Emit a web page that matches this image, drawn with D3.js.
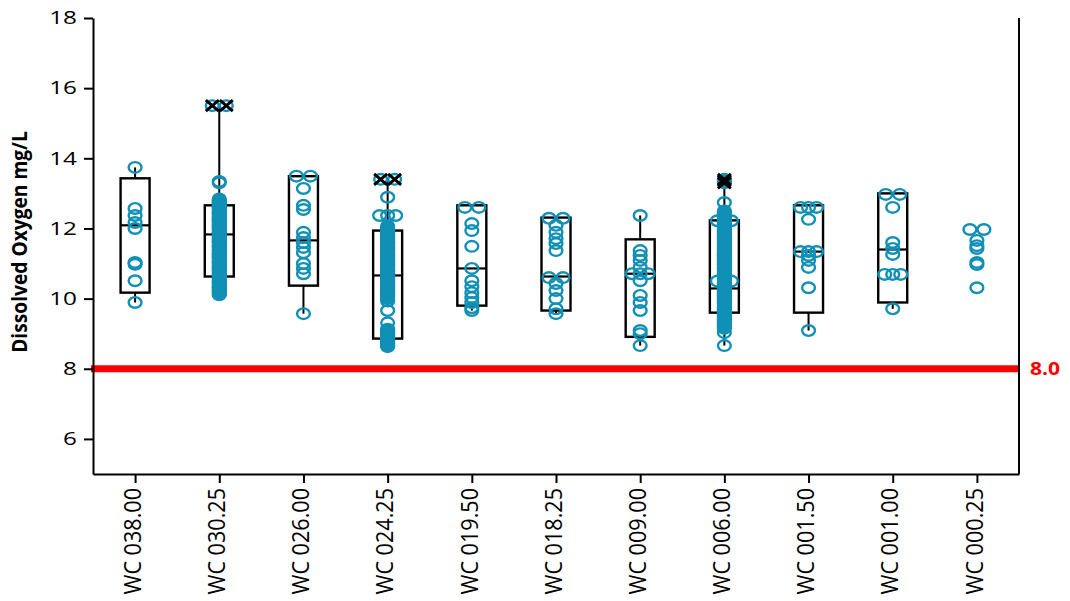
<!DOCTYPE html>
<html>
<head>
<meta charset="utf-8">
<script src="https://cdn.jsdelivr.net/npm/d3@7"></script>
<style>
    body { margin: 0; background: #fff; }
    svg { display: block; }
</style>
</head>
<body>
<div id="chart"></div>
<script>
    var stations = ["WC 038.00", "WC 030.25", "WC 026.00", "WC 024.25", "WC 019.50", "WC 018.25",
                    "WC 009.00", "WC 006.00", "WC 001.50", "WC 001.00", "WC 000.25"];

    // box statistics (null = no box drawn)
    var q1      = [10.17, 10.63, 10.37, 8.86, 9.80, 9.66, 8.91, 9.60, 9.60, 9.89, null];
    var median  = [12.09, 11.83, 11.66, 10.66, 10.86, 10.63, 10.71, 10.29, 11.34, 11.40, null];
    var q3      = [13.43, 12.66, 13.49, 11.94, 12.66, 12.31, 11.69, 12.23, 12.66, 13.00, null];
    var whiskLo = [9.89, 10.10, 9.57, 8.66, 9.66, 9.57, 8.66, 8.66, 9.09, 9.71, null];
    var whiskHi = [13.74, 15.50, 13.49, 13.40, 12.66, 12.31, 12.37, 13.33, 12.66, 13.00, null];

    // individual observations per station
    var obs038 = [13.74, 12.57, 12.37, 12.17, 12.0, 11.03, 10.98, 10.51, 9.89];
    var obs030 = [15.5, 15.5, 13.34, 13.3, 12.84, 12.8, 12.77, 12.72, 12.69, 12.66, 12.61, 12.58, 12.52, 12.5,
                  12.45, 12.41, 12.38, 12.33, 12.29, 12.26, 12.21, 12.18, 12.12, 12.1, 12.05, 12.01, 11.97,
                  11.93, 11.88, 11.86, 11.81, 11.77, 11.73, 11.7, 11.64, 11.61, 11.58, 11.53, 11.49, 11.46,
                  11.4, 11.37, 11.33, 11.29, 11.25, 11.2, 11.17, 11.14, 11.08, 11.05, 11.01, 10.97, 10.92,
                  10.89, 10.85, 10.81, 10.77, 10.73, 10.68, 10.65, 10.62, 10.57, 10.53, 10.49, 10.45, 10.41,
                  10.36, 10.33, 10.3, 10.25, 10.21, 10.18, 10.14, 10.11];
    var obs026 = [13.49, 13.49, 13.14, 12.66, 12.54, 11.89, 11.74, 11.6, 11.46, 11.31, 11.0, 10.86, 10.71, 9.57];
    var obs024 = [13.4, 13.4, 12.89, 12.37, 12.37, 12.37, 12.07, 12.03, 11.99, 11.95, 11.9, 11.87, 11.83, 11.78,
                  11.74, 11.71, 11.66, 11.62, 11.58, 11.55, 11.5, 11.46, 11.43, 11.38, 11.34, 11.3, 11.26,
                  11.21, 11.18, 11.13, 11.1, 11.06, 11.01, 10.97, 10.94, 10.9, 10.85, 10.81, 10.78, 10.73,
                  10.7, 10.65, 10.62, 10.58, 10.53, 10.5, 10.46, 10.41, 10.38, 10.34, 10.29, 10.26, 10.22,
                  10.17, 10.14, 10.1, 10.05, 10.0, 9.93, 9.66, 9.31, 9.13, 9.09, 9.05, 9.0, 8.96, 8.92, 8.87,
                  8.83, 8.79, 8.74, 8.7, 8.66, 8.63];
    var obs019 = [12.6, 12.6, 12.14, 11.94, 11.49, 10.86, 10.51, 10.34, 10.17, 10.03, 9.89, 9.74, 9.66];
    var obs018 = [12.29, 12.29, 12.09, 11.89, 11.71, 11.57, 11.37, 10.6, 10.6, 10.43, 10.23, 10.0, 9.71, 9.57];
    var obs009 = [12.37, 11.37, 11.23, 11.09, 10.89, 10.71, 10.71, 10.71, 10.51, 10.09, 9.89, 9.66, 9.09, 9.0, 8.66];
    var obs006 = [13.3, 13.36, 13.4, 12.74, 12.5, 12.46, 12.41, 12.37, 12.33, 12.22, 12.22, 12.29, 12.25, 12.19,
                  12.15, 12.1, 12.06, 12.01, 11.97, 11.93, 11.89, 11.84, 11.8, 11.76, 11.71, 11.67, 11.63,
                  11.59, 11.54, 11.5, 11.46, 11.41, 11.37, 11.33, 11.29, 11.24, 11.2, 11.16, 11.12, 11.07,
                  11.03, 10.99, 10.95, 10.9, 10.86, 10.82, 10.77, 10.73, 10.69, 10.65, 10.6, 10.56, 10.5,
                  10.5, 10.47, 10.43, 10.39, 10.34, 10.3, 10.26, 10.21, 10.17, 10.13, 10.09, 10.04, 10.0,
                  9.96, 9.92, 9.87, 9.83, 9.79, 9.74, 9.7, 9.66, 9.62, 9.57, 9.53, 9.49, 9.45, 9.4, 9.36,
                  9.32, 9.27, 9.23, 9.19, 9.15, 9.03, 8.66];
    var obs001_5 = [12.6, 12.6, 12.6, 12.26, 11.34, 11.34, 11.34, 11.23, 11.09, 10.89, 10.31, 9.09];
    var obs001_0 = [12.97, 12.97, 12.6, 11.6, 11.43, 11.26, 10.69, 10.69, 10.69, 9.71];
    var obs000 = [11.97, 11.97, 11.66, 11.51, 11.43, 11.03, 10.97, 10.31];
    var observations = [obs038, obs030, obs026, obs024, obs019, obs018, obs009, obs006, obs001_5, obs001_0, obs000];

    // values flagged as outliers (drawn with an X)
    var outlierStation = ["WC 030.25", "WC 030.25", "WC 024.25", "WC 024.25", "WC 006.00", "WC 006.00", "WC 006.00"];
    var outlierValue   = [15.5, 15.5, 13.4, 13.4, 13.3, 13.36, 13.4];

    var yTicks = [6, 8, 10, 12, 14, 16, 18];
    var threshold = 8.0;

    var margin = {top: 18, right: 51, bottom: 127, left: 93};
    var svgWidth = 1070, svgHeight = 601;
    var width = svgWidth - margin.left - margin.right;
    var height = svgHeight - margin.top - margin.bottom;

    var blue = "#1190b6";
    var font = "'Open Sans', 'DejaVu Sans', sans-serif";

    var svg = d3.select("#chart")
        .append("svg")
        .attr("width", svgWidth)
        .attr("height", svgHeight)
        .append("g")
        .attr("transform", "translate(" + margin.left + "," + margin.top + ")");

    var x = d3.scalePoint().domain(stations).range([0, width]).padding(0.5);
    var y = d3.scaleLinear().domain([5, 18]).range([height, 0]);

    // horizontal spread for identical values
    function spread(vals) {
        var counts = {}, seen = {};
        vals.forEach(v => { counts[v] = (counts[v] || 0) + 1; });
        return vals.map(v => {
            var n = counts[v];
            var i = seen[v] = (seen[v] === undefined ? 0 : seen[v] + 1);
            var step = n === 2 ? 14 : 8;
            return (i - (n - 1) / 2) * step;
        });
    }

    // boxes
    var boxes = stations.map((s, i) => ({s: s, q1: q1[i], med: median[i], q3: q3[i], lo: whiskLo[i], hi: whiskHi[i]}))
        .filter(d => d.q1 != null);
    var bw = 29;

    var bg = svg.selectAll(".box").data(boxes).enter().append("g").attr("class", "box");
    bg.append("line")
        .attr("x1", d => x(d.s)).attr("x2", d => x(d.s))
        .attr("y1", d => y(d.lo)).attr("y2", d => y(d.q1))
        .attr("stroke", "#000").attr("stroke-width", 2);
    bg.append("line")
        .attr("x1", d => x(d.s)).attr("x2", d => x(d.s))
        .attr("y1", d => y(d.q3)).attr("y2", d => y(d.hi))
        .attr("stroke", "#000").attr("stroke-width", 2);
    bg.append("rect")
        .attr("x", d => x(d.s) - bw / 2)
        .attr("width", bw)
        .attr("y", d => y(d.q3))
        .attr("height", d => y(d.q1) - y(d.q3))
        .attr("fill", "none").attr("stroke", "#000").attr("stroke-width", 2.4);
    bg.append("line")
        .attr("x1", d => x(d.s) - bw / 2).attr("x2", d => x(d.s) + bw / 2)
        .attr("y1", d => y(d.med)).attr("y2", d => y(d.med))
        .attr("stroke", "#000").attr("stroke-width", 2.2);

    // points
    var pts = [];
    stations.forEach((s, i) => {
        var offs = spread(observations[i]);
        observations[i].forEach((v, j) => pts.push({s: s, v: v, dx: offs[j]}));
    });

    svg.selectAll(".pt").data(pts).enter().append("ellipse")
        .attr("class", "pt")
        .attr("cx", d => x(d.s) + d.dx)
        .attr("cy", d => y(d.v))
        .attr("rx", 6.4).attr("ry", 5.3)
        .attr("fill", "none")
        .attr("stroke", blue)
        .attr("stroke-width", 2.4);

    // outlier markers
    var outs = [];
    stations.forEach(s => {
        var vals = outlierValue.filter((v, i) => outlierStation[i] === s);
        var offs = spread(vals);
        vals.forEach((v, j) => outs.push({s: s, v: v, dx: offs[j]}));
    });
    svg.selectAll(".out").data(outs).enter().append("path")
        .attr("class", "out")
        .attr("transform", d => "translate(" + (x(d.s) + d.dx) + "," + y(d.v) + ")")
        .attr("d", "M-6.5,-5.5L6.5,5.5M-6.5,5.5L6.5,-5.5")
        .attr("stroke", "#000")
        .attr("stroke-width", 3)
        .attr("fill", "none");

    // threshold line
    svg.append("line")
        .attr("x1", -2).attr("x2", width)
        .attr("y1", y(threshold)).attr("y2", y(threshold))
        .attr("stroke", "#ff0000").attr("stroke-width", 7);

    svg.append("text")
        .attr("transform", "translate(" + (width + 11) + "," + (y(threshold) + 6.5) + ") scale(1.17,1)")
        .attr("fill", "#ff0000")
        .style("font-family", font)
        .style("font-weight", "bold")
        .style("font-size", "18px")
        .text(threshold.toFixed(1));

    // axes
    var yAxis = svg.append("g")
        .call(d3.axisLeft(y).tickValues(yTicks).tickSize(9).tickSizeOuter(0));
    var sx = 1.35;
    yAxis.selectAll("text")
        .attr("x", -16 / sx)
        .attr("transform", "scale(" + sx + ",1)")
        .style("font-family", font)
        .style("font-size", "18px")
        .attr("fill", "#000");

    var xAxis = svg.append("g")
        .attr("transform", "translate(0," + height + ")")
        .call(d3.axisBottom(x).tickSize(9).tickSizeOuter(0));
    xAxis.selectAll("text").remove();
    xAxis.selectAll(".tick").append("text")
        .attr("transform", "translate(-3,14) rotate(-90) scale(1.2,1.3)")
        .attr("text-anchor", "end")
        .attr("dy", "0.35em")
        .attr("fill", "#000")
        .style("font-family", font)
        .style("font-size", "18px")
        .text(d => d);

    svg.selectAll(".domain, .tick line").attr("stroke", "#000").attr("stroke-width", 2);

    // right frame line
    svg.append("line")
        .attr("x1", width).attr("x2", width)
        .attr("y1", 0).attr("y2", height)
        .attr("stroke", "#000").attr("stroke-width", 2);

    // y title
    svg.append("text")
        .attr("transform", "translate(" + (-66) + "," + (height / 2 - 4) + ") rotate(-90) scale(1.2,1.3)")
        .attr("text-anchor", "middle")
        .style("font-family", font)
        .style("font-weight", "bold")
        .style("font-size", "16px")
        .text("Dissolved Oxygen mg/L");
</script>
</body>
</html>
